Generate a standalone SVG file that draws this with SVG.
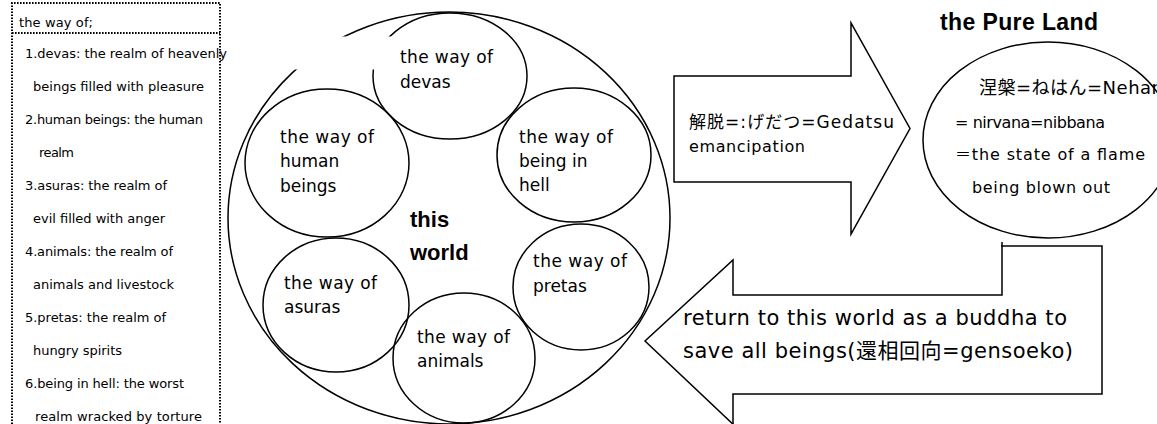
<svg xmlns="http://www.w3.org/2000/svg" width="1157" height="424" viewBox="0 0 1157 424">
<style>
.ln{fill:none;stroke:#000;stroke-width:1.5}
.t{font-family:"DejaVu Sans","Noto Sans CJK JP",sans-serif;fill:#000}
.ls{font-size:13px}
.ct{font-size:17px}
.at{font-size:16px}
.bt{font-size:21px}
.b{font-family:"Liberation Sans",Arial,sans-serif;font-weight:bold;fill:#000}
.dot{fill:none;stroke:#000;stroke-width:2;stroke-dasharray:1.6 1.4}
</style>
<rect width="1157" height="424" fill="#fff"/>

<g id="legend">
<path class="dot" d="M12,430 V3 H220 V430"/>
<line class="dot" x1="12" y1="33" x2="220" y2="33"/>
<text class="t ls" x="19" y="27" textLength="74">the way of;</text>
<text class="t ls" x="25" y="58" textLength="202">1.devas: the realm of heavenly</text>
<text class="t ls" x="33" y="91" textLength="171">beings filled with pleasure</text>
<text class="t ls" x="25" y="124" textLength="178">2.human beings: the human</text>
<text class="t ls" x="39" y="157" textLength="35">realm</text>
<text class="t ls" x="25" y="190" textLength="142">3.asuras: the realm of</text>
<text class="t ls" x="33" y="223" textLength="132">evil filled with anger</text>
<text class="t ls" x="25" y="256" textLength="148">4.animals: the realm of</text>
<text class="t ls" x="33" y="289" textLength="141">animals and livestock</text>
<text class="t ls" x="25" y="322" textLength="141">5.pretas: the realm of</text>
<text class="t ls" x="33" y="355" textLength="89">hungry spirits</text>
<text class="t ls" x="25" y="388" textLength="159">6.being in hell: the worst</text>
<text class="t ls" x="35" y="421" textLength="167">realm wracked by torture</text>
</g>

<g id="this-world">
<ellipse class="ln" cx="449" cy="218" rx="221" ry="206"/>
</g>
<g id="devas">
<ellipse class="ln" cx="450" cy="76" rx="77" ry="63"/>
<text class="t ct" x="400" y="63" textLength="93">the way of</text>
<text class="t ct" x="400" y="88">devas</text>
</g>
<g id="human-beings">
<ellipse class="ln" cx="327" cy="163" rx="82" ry="74"/>
<text class="t ct" x="280" y="143" textLength="94">the way of</text>
<text class="t ct" x="280" y="167">human</text>
<text class="t ct" x="280" y="192">beings</text>
</g>
<g id="being-in-hell">
<ellipse class="ln" cx="574" cy="155" rx="77" ry="67"/>
<text class="t ct" x="519" y="143" textLength="94">the way of</text>
<text class="t ct" x="519" y="167">being in</text>
<text class="t ct" x="519" y="191">hell</text>
</g>
<g id="pretas">
<ellipse class="ln" cx="581" cy="287" rx="68" ry="63"/>
<text class="t ct" x="533" y="267" textLength="94">the way of</text>
<text class="t ct" x="533" y="292">pretas</text>
</g>
<g id="asuras">
<ellipse class="ln" cx="336" cy="305" rx="73" ry="67"/>
<text class="t ct" x="284" y="289" textLength="93">the way of</text>
<text class="t ct" x="284" y="313">asuras</text>
</g>
<g id="animals">
<ellipse class="ln" cx="464" cy="358" rx="71" ry="65"/>
<text class="t ct" x="417" y="343" textLength="93">the way of</text>
<text class="t ct" x="417" y="367">animals</text>
</g>
<rect x="262" y="36.5" width="130" height="33" fill="#fff"/>
<g id="this-world-label">
<text class="b" font-size="22" x="410" y="227">this</text>
<text class="b" font-size="22" x="410" y="260">world</text>
</g>

<g id="pure-land">
<text class="b" font-size="23" x="940" y="30" textLength="158">the Pure Land</text>
<ellipse class="ln" cx="1048" cy="140" rx="125" ry="98"/>
<text class="t" font-size="18" x="979" y="94" textLength="184">涅槃=ねはん=Nehan</text>
<text class="t at" x="955" y="128" textLength="150">= nirvana=nibbana</text>
<text class="t at" x="955" y="160" textLength="190">＝the state of a flame</text>
<text class="t at" x="972" y="193" textLength="138">being blown out</text>
</g>

<g id="connectors">
<g id="arrow-gedatsu">
<path class="ln" fill="#fff" d="M674,76 H851 V23 L910,128.5 L851,234 V182 H674 Z"/>
<text class="t" font-size="17" x="689" y="128" textLength="205">解脱=:げだつ=Gedatsu</text>
<text class="t at" x="689" y="152" textLength="116">emancipation</text>
</g>
<g id="arrow-gensoeko">
<path class="ln" d="M1002,242 V295 H733 V260 L645,341 L737,428"/>
<path class="ln" d="M733,430 V394 H1102 V246 H1001"/>
<text class="t bt" x="683" y="325" textLength="384">return to this world as a buddha to</text>
<text class="t bt" x="683" y="358" textLength="390">save all beings(還相回向=gensoeko)</text>
</g>
</g>
</svg>
